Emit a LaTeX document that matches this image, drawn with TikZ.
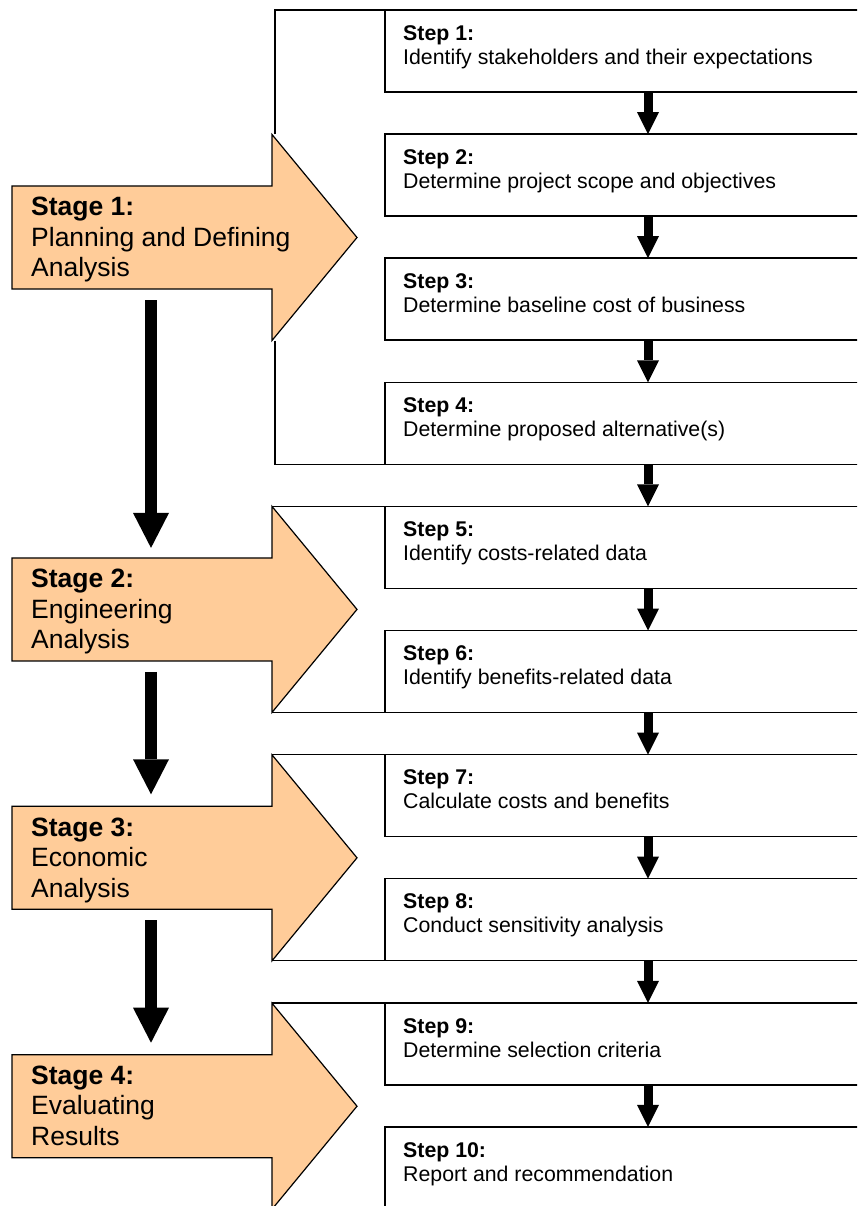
\documentclass[tikz,border=0pt]{standalone}
\usepackage{fontspec}
\setmainfont{Liberation Sans}
\usetikzlibrary{arrows.meta, positioning, calc}
\definecolor{stagefill}{HTML}{FFCC99}
\tikzset{
  stepbox/.style={rectangle, draw=black, line width=1.5pt, fill=white,
    minimum width=526pt, minimum height=82pt, inner sep=0pt, outer sep=0pt},
  steptext/.style={anchor=north west, inner sep=0pt, align=left,
    font=\fontsize{21.3}{24}\selectfont},
  stagebody/.style={rectangle, draw=none, anchor=north west,
    minimum width=260pt, minimum height=103pt, inner sep=0pt, outer sep=0pt},
  stagetext/.style={anchor=north west, inner sep=0pt, align=left,
    font=\fontsize{26.5}{30.5}\selectfont},
  stagearrow/.style={draw=black, line width=1.2pt, fill=stagefill, line join=miter},
  frameline/.style={draw=black, line width=1.5pt},
  steplink/.style={line width=9pt, -{Triangle[width=22pt, length=22pt, line width=0pt]}},
  stagelink/.style={line width=12pt, -{Triangle[width=36pt, length=35pt, line width=0pt]}},
}

\begin{document}
\begin{tikzpicture}[x=1pt, y=-1pt]
  \useasboundingbox (0,0) rectangle (857,1206);
  \clip (0,0) rectangle (857,1206);

  % step boxes
  \node[stepbox, anchor=north west] (s1) at (385,10) {};
  \node[stepbox, below=42.1pt of s1] (s2) {};
  \node[stepbox, below=42.1pt of s2] (s3) {};
  \node[stepbox, below=42.1pt of s3] (s4) {};
  \node[stepbox, below=42.1pt of s4] (s5) {};
  \node[stepbox, below=42.1pt of s5] (s6) {};
  \node[stepbox, below=42.1pt of s6] (s7) {};
  \node[stepbox, below=42.1pt of s7] (s8) {};
  \node[stepbox, below=42.1pt of s8] (s9) {};
  \node[stepbox, below=42.1pt of s9] (s10) {};

  \node[steptext] (t1) at ([shift={(18,15.2)}]s1.north west)
    {\textbf{Step 1:}\\Identify stakeholders and their expectations};
  \node[steptext] (t2) at ([shift={(18,15.2)}]s2.north west)
    {\textbf{Step 2:}\\Determine project scope and objectives};
  \node[steptext] (t3) at ([shift={(18,15.2)}]s3.north west)
    {\textbf{Step 3:}\\Determine baseline cost of business};
  \node[steptext] (t4) at ([shift={(18,15.2)}]s4.north west)
    {\textbf{Step 4:}\\Determine proposed alternative(s)};
  \node[steptext] (t5) at ([shift={(18,15.2)}]s5.north west)
    {\textbf{Step 5:}\\Identify costs-related data};
  \node[steptext] (t6) at ([shift={(18,15.2)}]s6.north west)
    {\textbf{Step 6:}\\Identify benefits-related data};
  \node[steptext] (t7) at ([shift={(18,15.2)}]s7.north west)
    {\textbf{Step 7:}\\Calculate costs and benefits};
  \node[steptext] (t8) at ([shift={(18,15.2)}]s8.north west)
    {\textbf{Step 8:}\\Conduct sensitivity analysis};
  \node[steptext] (t9) at ([shift={(18,15.2)}]s9.north west)
    {\textbf{Step 9:}\\Determine selection criteria};
  \node[steptext] (t10) at ([shift={(18,15.2)}]s10.north west)
    {\textbf{Step 10:}\\Report and recommendation};

  % stage arrows
  \node[stagebody] (body1) at (12,186) {};
  \node[stagebody] (body2) at (12,557.9) {};
  \node[stagebody] (body3) at (12,806.3) {};
  \node[stagebody] (body4) at (12,1054.7) {};

  \draw[frameline] ($(body1.north east)+(3,-51.5)$) |- (s1.north west);
  \draw[frameline] ($(body1.south east)+(3,51.5)$) |- (s4.south west);
  \draw[frameline] (s5.north west) -- (s5.north west -| body2.north east);
  \draw[frameline] (s6.south west) -- (s6.south west -| body2.south east);
  \draw[frameline] (s7.north west) -- (s7.north west -| body3.north east);
  \draw[frameline] (s8.south west) -- (s8.south west -| body3.south east);
  \draw[frameline] (s9.north west) -- (s9.north west -| body4.north east);

  \draw[stagearrow] (body1.north west) -- (body1.north east) -- ++(0,-51.5)
    -- ++(85,103) -- ++(-85,103) -- ++(0,-51.5) -- (body1.south west) -- cycle;
  \draw[stagearrow] (body2.north west) -- (body2.north east) -- ++(0,-51.5)
    -- ++(85,103) -- ++(-85,103) -- ++(0,-51.5) -- (body2.south west) -- cycle;
  \draw[stagearrow] (body3.north west) -- (body3.north east) -- ++(0,-51.5)
    -- ++(85,103) -- ++(-85,103) -- ++(0,-51.5) -- (body3.south west) -- cycle;
  \draw[stagearrow] (body4.north west) -- (body4.north east) -- ++(0,-51.5)
    -- ++(85,103) -- ++(-85,103) -- ++(0,-51.5) -- (body4.south west) -- cycle;

  \node[stagetext] (lbl1) at ([shift={(19,11)}]body1.north west)
    {\textbf{Stage 1:}\\Planning and Defining\\Analysis};
  \node[stagetext] (lbl2) at ([shift={(19,11)}]body2.north west)
    {\textbf{Stage 2:}\\Engineering\\Analysis};
  \node[stagetext] (lbl3) at ([shift={(19,11)}]body3.north west)
    {\textbf{Stage 3:}\\Economic\\Analysis};
  \node[stagetext] (lbl4) at ([shift={(19,11)}]body4.north west)
    {\textbf{Stage 4:}\\Evaluating\\Results};

  % links
  \draw[steplink] (s1.south) -- (s2.north);
  \draw[steplink] (s2.south) -- (s3.north);
  \draw[steplink] (s3.south) -- (s4.north);
  \draw[steplink] (s4.south) -- (s5.north);
  \draw[steplink] (s5.south) -- (s6.north);
  \draw[steplink] (s6.south) -- (s7.north);
  \draw[steplink] (s7.south) -- (s8.north);
  \draw[steplink] (s8.south) -- (s9.north);
  \draw[steplink] (s9.south) -- (s10.north);

  \draw[stagelink] ([shift={(9,11)}]body1.south) -- ([shift={(9,-10)}]body2.north);
  \draw[stagelink] ([shift={(9,11)}]body2.south) -- ([shift={(9,-12)}]body3.north);
  \draw[stagelink] ([shift={(9,11)}]body3.south) -- ([shift={(9,-12)}]body4.north);
\end{tikzpicture}
\end{document}
